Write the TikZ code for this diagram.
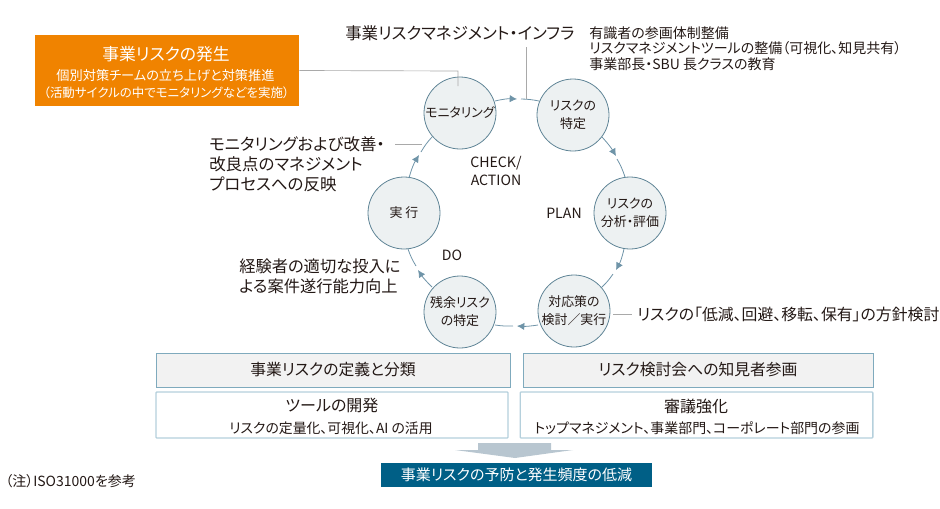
\documentclass[tikz,border=0pt]{standalone}
\usepackage{fontspec}
\setmainfont[RawFeature=+palt]{Noto Sans CJK JP}
\usetikzlibrary{arrows.meta}
\definecolor{ringline}{HTML}{5F8496}
\definecolor{ringfill}{HTML}{EDF1F2}
\definecolor{arrowc}{HTML}{6F94A8}
\definecolor{leader}{HTML}{A9A9A9}
\definecolor{txt}{HTML}{231815}
\definecolor{orangebox}{HTML}{F08300}
\definecolor{teal}{HTML}{005F86}
\definecolor{boxline}{HTML}{7FAABD}
\definecolor{boxline2}{HTML}{B5D0DC}
\definecolor{greyfill}{HTML}{F2F2F2}
\definecolor{bigarrow}{HTML}{B8C6D0}
\tikzset{
  ring/.style={circle,draw=ringline,fill=ringfill,line width=.6pt,minimum size=54pt,inner sep=0pt,align=center,font=\fontsize{9.7}{13.5}\selectfont,text=txt},
  arc1/.style={draw=arrowc,line width=.6pt},
  arc2/.style={arc1,-{Latex[length=5.5pt,width=5.5pt]}},
  lead/.style={draw=leader,line width=.5pt},
  lab/.style={inner sep=0pt,text=txt,align=left,font=\fontsize{12.2}{15}\selectfont},
  lab2/.style={inner sep=0pt,text=txt,align=center,font=\fontsize{10.6}{13}\selectfont},
  topbox/.style={draw=boxline,fill=greyfill,line width=.6pt,inner sep=0pt,text=txt,font=\fontsize{11.85}{13}\selectfont},
  lowbox/.style={draw=boxline2,fill=white,line width=1pt,inner sep=0pt,rounded corners=.6pt}
}
\begin{document}
\begin{tikzpicture}[x=.75pt,y=-.75pt]
\useasboundingbox (0,0) rectangle (940,508);
% rings
\node[ring] (mon) at (460,113) {モニタリング};
\node[ring] (iden) at (573,115) {リスクの\\特定};
\node[ring] (anal) at (630,213) {リスクの\\分析・評価};
\node[ring] (plan) at (574,311) {対応策の\\検討／実行};
\node[ring] (rest) at (460,312) {残余リスク\\の特定};
\node[ring] (exec) at (404,213) {実 行};
% tips and restarts
\coordinate (t1) at (517,99); \coordinate (s1) at (521,99);
\coordinate (t2) at (616,156); \coordinate (s2) at (617,159);
\coordinate (t3) at (616,270); \coordinate (s3) at (613,274);
\coordinate (t4) at (517,326); \coordinate (s4) at (513,326);
\coordinate (t5) at (418,270); \coordinate (s5) at (416,266);
\coordinate (t6) at (419,155); \coordinate (s6) at (421,152);
\draw[arc2] (495,101) to[bend left=8] (t1);
\draw[arc1] (s1) to[bend left=5] (539,101);
\draw[arc2] (602,137) to[bend left=6] (t2);
\draw[arc1] (s2) to[bend left=6] (625,177);
\draw[arc2] (624,249) to[bend left=8] (t3);
\draw[arc1] (s3) to[bend left=6] (602,287);
\draw[arc2] (538,325) to[bend left=6] (t4);
\draw[arc1] (s4) to[bend left=5] (495,325);
\draw[arc2] (432,287) to[bend left=6] (t5);
\draw[arc1] (s5) to[bend left=6] (408,249);
\draw[arc2] (409,178) to[bend left=8] (t6);
\draw[arc1] (s6) to[bend left=6] (432,137);
% orange box
\node[fill=orangebox,minimum width=198pt,minimum height=53pt,inner sep=0pt] (risk) at (167,70.5) {};
\node[text=white,inner sep=0pt,font=\fontsize{12.6}{15}\selectfont] (riskt) at (166,54) {事業リスクの発生};
\node[text=white,inner sep=0pt,font=\fontsize{9.9}{12}\selectfont] (riskb) at (165.5,75) {個別対策チームの立ち上げと対策推進};
\node[text=white,inner sep=0pt,font=\fontsize{9.35}{12}\selectfont] (riskc) at (166.5,92.5) {（活動サイクルの中でモニタリングなどを実施）};
\coordinate (c1) at (458,71); \coordinate (c1e) at (458,86);
\draw[lead] (risk.east) -- (c1) -- (c1e);
% labels
\node[lab,anchor=west,font=\fontsize{12.35}{15}\selectfont] (infra) at (345,33) {事業リスクマネジメント・インフラ};
\coordinate (c2) at (526,47); \coordinate (c2e) at (526,99);
\draw[lead] (c2) -- (c2e);
\node[lab,anchor=north west,font=\fontsize{10.5}{11.8}\selectfont] (inft) at (589,26) {有識者の参画体制整備\\リスクマネジメントツールの整備（可視化、知見共有）\\事業部長・SBU 長クラスの教育};
\node[lab,anchor=north west,font=\fontsize{12.35}{15}\selectfont] (mont) at (209,136) {モニタリングおよび改善・\\改良点のマネジメント\\プロセスへの反映};
\coordinate (c3) at (395,144); \coordinate (c3e) at (422,144);
\draw[lead] (c3) -- (c3e);
\node[lab,anchor=north west] (expt) at (239,259) {経験者の適切な投入に\\よる案件遂行能力向上};
\node[lab,anchor=west,font=\fontsize{11.9}{15}\selectfont] (polt) at (637,314.5) {リスクの「低減、回避、移転、保有」の方針検討};
\coordinate (c4) at (613,314); \coordinate (c4e) at (632,314);
\draw[lead] (c4) -- (c4e);
\node[lab2] (check) at (496,171) {CHECK/\\ACTION};
\node[lab2] (planl) at (564,213) {PLAN};
\node[lab2] (dol) at (452,255) {DO};
% boxes
\node[topbox,minimum width=265.5pt,minimum height=25.5pt] (b1) at (333,370) {事業リスクの定義と分類};
\node[topbox,minimum width=262.5pt,minimum height=25.5pt] (b2) at (698,370) {リスク検討会への知見者参画};
\node[lowbox,minimum width=264pt,minimum height=34.5pt] (b3) at (332,415) {};
\node[lowbox,minimum width=264.5pt,minimum height=34.5pt] (b4) at (696.5,415) {};
\node[inner sep=0pt,text=txt,font=\fontsize{12}{13}\selectfont] (b3a) at (332,405) {ツールの開発};
\node[inner sep=0pt,text=txt,font=\fontsize{10.4}{11}\selectfont] (b3b) at (331,428) {リスクの定量化、可視化、AI の活用};
\node[inner sep=0pt,text=txt,font=\fontsize{12}{13}\selectfont] (b4a) at (696,406) {審議強化};
\node[inner sep=0pt,text=txt,font=\fontsize{10.45}{11}\selectfont] (b4b) at (697,428) {トップマネジメント、事業部門、コーポレート部門の参画};
% big arrow
\fill[bigarrow] (478,443) -- (551,443) -- (551,450) -- (573,450) -- (515,458) -- (455,450) -- (478,450) -- cycle;
\node[fill=teal,text=white,minimum width=203pt,minimum height=18pt,inner sep=0pt,font=\fontsize{11.25}{13}\selectfont] (goal) at (516.5,475) {事業リスクの予防と発生頻度の低減};
\node[lab,anchor=west,font=\fontsize{10.5}{11}\selectfont] (note) at (5,481) {（注）ISO31000を参考};
\end{tikzpicture}
\end{document}
